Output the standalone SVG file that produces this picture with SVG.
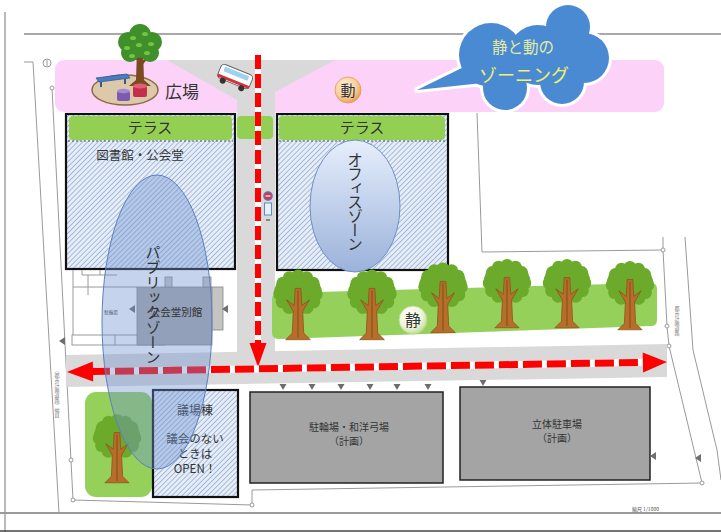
<svg xmlns="http://www.w3.org/2000/svg" width="721" height="532" viewBox="0 0 721 532">
  <style>
    .jp { font-family: "Noto Sans CJK JP", "Noto Sans", sans-serif; fill: #333; }
    .site { fill: none; stroke: #9a9a9a; stroke-width: 1; }
    .pin { fill: #fff; stroke: #9a9a9a; stroke-width: 1; }
    .mark { fill: #6e6e6e; }
    .bldg { fill: url(#hatch); stroke: #111; stroke-width: 2.2; }
    .terrace { fill: #93cf52; }
    .park { fill: #a4a4a4; stroke: #222; stroke-width: 1.5; }
    .road { fill: #d9d9d9; }
    .sep { stroke: #555; stroke-width: 1; stroke-dasharray: 2 2; }
    .vt { writing-mode: vertical-rl; text-orientation: upright; }
  </style>
  <defs>
    <pattern id="hatch" width="3.6" height="3.6" patternUnits="userSpaceOnUse" patternTransform="rotate(45)">
      <rect width="3.6" height="3.6" fill="#e6edf7"/>
      <line x1="0" y1="0" x2="0" y2="3.6" stroke="#8ba5cf" stroke-width="1.4"/>
    </pattern>
    <linearGradient id="officeGrad" x1="0" y1="0" x2="0" y2="1">
      <stop offset="0" stop-color="#e6eefc"/>
      <stop offset="1" stop-color="#9bb2da"/>
    </linearGradient>
    <radialGradient id="doGrad" cx="0.4" cy="0.35" r="0.7">
      <stop offset="0" stop-color="#fff3e2"/>
      <stop offset="0.6" stop-color="#f9cf9c"/>
      <stop offset="1" stop-color="#e9964a"/>
    </radialGradient>
    <radialGradient id="seiGrad" cx="0.4" cy="0.35" r="0.7">
      <stop offset="0" stop-color="#ffffff"/>
      <stop offset="0.6" stop-color="#eef6dc"/>
      <stop offset="1" stop-color="#bcd88c"/>
    </radialGradient>
    <!-- broadleaf tree: crown centred on the origin, trunk base at y=46 -->
    <g id="crownDark" fill="#6caa2c">
      <ellipse cx="0" cy="0" rx="20" ry="17"/>
      <circle cx="19" cy="-2" r="7"/><circle cx="16.5" cy="6" r="7"/><circle cx="9.5" cy="12" r="7"/>
      <circle cx="0" cy="14" r="7"/><circle cx="-9.5" cy="12" r="7"/><circle cx="-16.5" cy="6" r="7"/>
      <circle cx="-19" cy="-2" r="7"/><circle cx="-16.5" cy="-10" r="7"/><circle cx="-9.5" cy="-16" r="7"/>
      <circle cx="0" cy="-18" r="7"/><circle cx="9.5" cy="-16" r="7"/><circle cx="16.5" cy="-10" r="7"/>
    </g>
    <g id="tree">
      <use href="#crownDark"/>
      <use href="#crownDark" transform="translate(0,-4) scale(0.96)" style="fill:#8ec63f"/>
      <path d="M-3,-8 L3,-8 L4,10 L12,4 L5,16 L6,39 L13,46 L-13,46 L-6,39 L-5,16 L-12,4 L-4,10 Z" fill="#b56f2a" stroke="#8c5019" stroke-width="0.8"/>
      <path d="M0,-6 L0,44" stroke="#8c5019" stroke-width="1.2"/>
    </g>
  </defs>

  <rect width="721" height="532" fill="#fff"/>

  <!-- sheet frame -->
  <g id="frame" fill="none">
    <line x1="5" y1="12" x2="5" y2="532" stroke="#8a8a8a" stroke-width="1.2"/>
    <line x1="24" y1="34" x2="721" y2="34" stroke="#555" stroke-width="1.2"/>
    <line x1="0" y1="513" x2="721" y2="513" stroke="#9a9a9a" stroke-width="2"/>
    <line x1="0" y1="531" x2="721" y2="531" stroke="#444" stroke-width="1.5"/>
  </g>

  <!-- site boundary and surrounding plot lines -->
  <g id="siteLines">
    <polyline class="site" points="24,62 33,62 59,513"/>
    <polyline class="site" points="52,88 73,500 252,505 252,490 702,483 669,346 667,326 663,250 663,237"/>
    <polyline class="site" points="663,250 482,252 477,113"/>
    <polyline class="site" points="685,237 693,350 717,450 721,480"/>
    <circle class="pin" cx="52" cy="88" r="2"/>
    <circle class="pin" cx="71" cy="460" r="2"/>
    <circle class="pin" cx="73" cy="500" r="2"/>
    <circle class="pin" cx="252" cy="505" r="2"/>
    <circle class="pin" cx="702" cy="483" r="2"/>
    <circle class="pin" cx="669" cy="346" r="2"/>
    <circle class="pin" cx="667" cy="326" r="2"/>
    <circle class="pin" cx="663" cy="250" r="2"/>
    <circle cx="47" cy="63" r="4" fill="none" stroke="#9a9a9a" stroke-width="1"/>
    <line x1="47" y1="60" x2="47" y2="66" stroke="#9a9a9a" stroke-width="1"/>
    <text x="57" y="368" class="jp vt" font-size="5" style="fill:#777">（都市計画道路）幅員</text>
    <text x="677" y="306" class="jp vt" font-size="5" style="fill:#777">都市計画道路</text>
    <text x="632" y="511" class="jp" font-size="5" style="fill:#555">縮尺 1/1000</text>
  </g>

  <!-- plaza band and roads -->
  <rect id="plazaBand" x="55" y="60" width="609" height="52" rx="9" fill="#fcd2f8"/>
  <g id="roads">
    <polygon class="road" points="167,60 335,60 275,92 275,352 237,352 237,100"/>
    <polygon class="road" points="66,355 667,344 667,377 66,387"/>
    <rect class="terrace" x="237" y="116" width="36" height="23" rx="4"/>
  </g>

  <!-- plaza with tree, bench and stools -->
  <g id="plaza">
    <ellipse cx="125" cy="90" rx="33" ry="15" fill="#dcc9aa" stroke="#8a6a44" stroke-width="1.5"/>
    <path d="M137,50 L143,50 L144,80 L151,86 L129,86 L136,80 Z" fill="#7b4a20"/>
    <path d="M140,62 L131,52 M140,66 L149,55" stroke="#7b4a20" stroke-width="2.5"/>
    <g fill="#3f8f2a">
      <circle cx="128" cy="42" r="10"/><circle cx="140" cy="35" r="11"/><circle cx="152" cy="42" r="10"/>
      <circle cx="130" cy="53" r="9"/><circle cx="150" cy="53" r="9"/><circle cx="140" cy="47" r="11"/>
    </g>
    <g fill="#72c442">
      <ellipse cx="133" cy="38" rx="3" ry="2"/><ellipse cx="145" cy="34" rx="3" ry="2"/><ellipse cx="151" cy="44" rx="3" ry="2"/>
      <ellipse cx="127" cy="48" rx="3" ry="2"/><ellipse cx="139" cy="45" rx="3" ry="2"/><ellipse cx="147" cy="53" rx="3" ry="2"/>
      <ellipse cx="132" cy="56" rx="3" ry="2"/>
    </g>
    <path d="M96,78 L127,74 L130,78 L99,82 Z" fill="#4a7cc2" stroke="#345a90" stroke-width="0.8"/>
    <path d="M101,82 L101,87 M125,79 L125,84" stroke="#345a90" stroke-width="2"/>
    <rect x="117" y="91" width="13" height="10" rx="2" fill="#7d5cb0"/>
    <ellipse cx="123.5" cy="91" rx="6.5" ry="2.2" fill="#a689d4"/>
    <rect x="133" y="86" width="14" height="11" rx="2" fill="#c3304a"/>
    <ellipse cx="140" cy="86" rx="7" ry="2.4" fill="#e0607a"/>
    <text x="165" y="98" class="jp" font-size="17">広場</text>
  </g>

  <!-- bus -->
  <g id="bus" transform="translate(235,77) rotate(22)">
    <rect x="-17" y="-8" width="34" height="15" rx="4" fill="#fff" stroke="#666" stroke-width="1"/>
    <rect x="-13" y="-6" width="26" height="5" rx="1" fill="#9fd0f0"/>
    <rect x="-17" y="3" width="34" height="3" fill="#d8303a"/>
    <circle cx="-10" cy="8" r="3" fill="#333"/>
    <circle cx="10" cy="8" r="3" fill="#333"/>
  </g>

  <!-- library / hall -->
  <g id="library">
    <rect class="bldg" x="66" y="114" width="169" height="155"/>
    <rect class="terrace" x="69" y="116" width="163" height="24" rx="4"/>
    <line class="sep" x1="68" y1="141" x2="233" y2="141"/>
    <text x="150" y="133" class="jp" font-size="15" text-anchor="middle">テラス</text>
    <text x="140" y="160" class="jp" font-size="12.5" text-anchor="middle">図書館・公会堂</text>
  </g>

  <!-- office building -->
  <g id="office">
    <rect class="bldg" x="277" y="114" width="171" height="156"/>
    <rect class="terrace" x="279" y="116" width="166" height="24" rx="4"/>
    <line class="sep" x1="279" y1="141" x2="446" y2="141"/>
    <text x="362" y="133" class="jp" font-size="15" text-anchor="middle">テラス</text>
    <ellipse cx="355" cy="206" rx="45" ry="66" fill="url(#officeGrad)" stroke="#6e8fc4" stroke-width="1"/>
    <text x="355" y="152" class="jp vt" font-size="15.5" letter-spacing="-1.5">オフィスゾーン</text>
  </g>

  <!-- bus stop -->
  <g id="busStop">
    <circle cx="268" cy="196" r="4.2" fill="#e03040" stroke="#4a7cc8" stroke-width="1.2"/>
    <line x1="265.5" y1="196" x2="270.5" y2="196" stroke="#fff" stroke-width="1.2"/>
    <rect x="264.5" y="203" width="7" height="12" fill="#e8f2fc" stroke="#5a8ad0" stroke-width="1"/>
    <rect x="266" y="219" width="4" height="2" fill="#888"/>
  </g>

  <!-- annex and neighbouring structure -->
  <g id="annex">
    <g class="site">
      <polyline points="73,270 73,335"/>
      <polyline points="82,270 82,275 117,275"/>
      <polyline points="88,275 88,295"/>
      <polyline points="100,270 100,275"/>
      <rect x="72" y="335" width="93" height="10"/>
      <line x1="115" y1="335" x2="115" y2="345"/>
      <line x1="155" y1="335" x2="155" y2="345"/>
      <polyline points="73,287 137,287"/>
    </g>
    <rect x="137" y="287" width="75" height="58" fill="#ababab" stroke="#888" stroke-width="0.8"/>
    <rect x="212" y="287" width="11" height="43" fill="#c4c4c4" stroke="#888" stroke-width="0.8"/>
    <rect x="165" y="277" width="7" height="10" fill="#c8c8c8" stroke="#888" stroke-width="0.8"/>
    <rect x="203" y="277" width="8" height="10" fill="#c8c8c8" stroke="#888" stroke-width="0.8"/>
    <text x="111" y="314" class="jp" font-size="4.5" text-anchor="middle">駐輪場</text>
    <path class="mark" d="M135,305 L135,313 L129,309 Z"/>
    <path class="mark" d="M228,305 L228,313 L222,309 Z"/>
    <path class="mark" d="M65,337 L65,345 L59,341 Z"/>
  </g>

  <!-- tree belt -->
  <g id="treeBelt">
    <path d="M280,293 L651,283 Q657,283 657,289 L657,320 Q657,326 651,326 L280,339 Q272,339 272,333 L272,299 Q272,293 280,293 Z" fill="#95d05a"/>
    <use href="#tree" transform="translate(298,296) scale(0.95)"/>
    <use href="#tree" transform="translate(372,296) scale(0.95)"/>
    <use href="#tree" transform="translate(443,289) scale(0.95)"/>
    <use href="#tree" transform="translate(507,285) scale(0.93)"/>
    <use href="#tree" transform="translate(567,285) scale(0.93)"/>
    <use href="#tree" transform="translate(630,287) scale(0.93)"/>
  </g>

  <!-- green pocket by the council hall -->
  <g id="pocketGreen">
    <rect x="85" y="392" width="67" height="105" rx="11" fill="#95d05a"/>
    <use href="#tree" transform="translate(117,440) scale(0.93)"/>
  </g>

  <!-- council hall -->
  <g id="councilHall">
    <rect class="bldg" x="153" y="390" width="85" height="107"/>
    <text x="195" y="415" class="jp" font-size="12" text-anchor="middle">議場棟</text>
    <text x="195" y="443" class="jp" font-size="11.5" text-anchor="middle">議会のない</text>
    <text x="195" y="458" class="jp" font-size="11.5" text-anchor="middle">ときは</text>
    <text x="195" y="473" class="jp" font-size="11.5" text-anchor="middle">OPEN！</text>
  </g>

  <!-- planned parking blocks -->
  <g id="bikeParking">
    <rect class="park" x="250" y="392" width="193" height="91"/>
    <text x="349" y="431" class="jp" font-size="10" text-anchor="middle">駐輪場・和洋弓場</text>
    <text x="349" y="445" class="jp" font-size="10" text-anchor="middle">（計画）</text>
  </g>
  <g id="carParking">
    <rect class="park" x="460" y="387" width="190" height="93"/>
    <text x="557" y="428" class="jp" font-size="10" text-anchor="middle">立体駐車場</text>
    <text x="557" y="442" class="jp" font-size="10" text-anchor="middle">（計画）</text>
  </g>

  <!-- entrance markers -->
  <g id="entrances" class="mark">
    <path d="M279.5,384 L286.5,384 L283,390 Z"/>
    <path d="M308.5,384 L315.5,384 L312,390 Z"/>
    <path d="M337.5,384 L344.5,384 L341,390 Z"/>
    <path d="M366.5,384 L373.5,384 L370,390 Z"/>
    <path d="M393.5,384 L400.5,384 L397,390 Z"/>
    <path d="M424.5,384 L431.5,384 L428,390 Z"/>
    <path d="M479.5,380 L486.5,380 L483,386 Z"/>
    <path d="M656,452 L656,460 L650,456 Z"/>
    <path d="M701,454 L701,462 L695,458 Z"/>
  </g>

  <!-- circulation arrows -->
  <g id="connectors">
    <line x1="258" y1="55" x2="258" y2="344" stroke="#fff" stroke-width="6"/>
    <line x1="258" y1="55" x2="258" y2="344" stroke="#ff0000" stroke-width="6" stroke-dasharray="14 5"/>
    <polygon points="249.5,343 266.5,343 258,367" fill="#ff0000"/>
    <g transform="translate(67,372) rotate(-0.955)">
      <line x1="24" y1="0" x2="578" y2="0" stroke="#fff" stroke-width="7"/>
      <line x1="24" y1="0" x2="578" y2="0" stroke="#ff0000" stroke-width="7" stroke-dasharray="19 5"/>
      <polygon points="0,0 26,-10 26,10" fill="#ff0000"/>
      <polygon points="600,0 576,-10 576,10" fill="#ff0000"/>
    </g>
  </g>

  <!-- public zone -->
  <g id="publicZone">
    <ellipse cx="157" cy="322" rx="55" ry="147" fill="#6f92d0" fill-opacity="0.4" stroke="#5a80c0" stroke-width="1"/>
    <text x="153" y="245" class="jp vt" font-size="15" letter-spacing="0">パブリックゾーン</text>
    <text x="176" y="316" class="jp" font-size="10.5" text-anchor="middle">公会堂別館</text>
  </g>

  <!-- zone badges -->
  <g id="badgeDo">
    <circle cx="348" cy="90" r="13" fill="url(#doGrad)" stroke="#e09a58" stroke-width="0.8"/>
    <text x="348" y="96" class="jp" font-size="15" text-anchor="middle">動</text>
  </g>
  <g id="badgeSei">
    <circle cx="413" cy="320" r="14" fill="url(#seiGrad)" stroke="#b8d48a" stroke-width="0.8"/>
    <text x="413" y="326" class="jp" font-size="16" text-anchor="middle">静</text>
  </g>

  <!-- speech cloud -->
  <g id="cloud">
    <g fill="#fff" stroke="#fff" stroke-width="6" stroke-linejoin="round">
      <circle cx="568" cy="27" r="22"/>
      <circle cx="491" cy="55" r="32"/>
      <circle cx="584" cy="58" r="25"/>
      <circle cx="505" cy="88" r="22"/>
      <circle cx="562" cy="82" r="22"/>
      <circle cx="538" cy="55" r="30"/>
      <polygon points="417,90 478,60 492,82"/>
    </g>
    <g fill="#4a8ad2">
      <circle cx="568" cy="27" r="22"/>
      <circle cx="491" cy="55" r="32"/>
      <circle cx="584" cy="58" r="25"/>
      <circle cx="505" cy="88" r="22"/>
      <circle cx="562" cy="82" r="22"/>
      <circle cx="538" cy="55" r="30"/>
      <polygon points="417,90 478,60 492,82"/>
    </g>
    <text x="523" y="53" class="jp" font-size="15.5" text-anchor="middle" style="fill:#e2eca0">静と動の</text>
    <text x="524" y="82" class="jp" font-size="18" text-anchor="middle" style="fill:#f4f26a">ゾーニング</text>
  </g>
</svg>
